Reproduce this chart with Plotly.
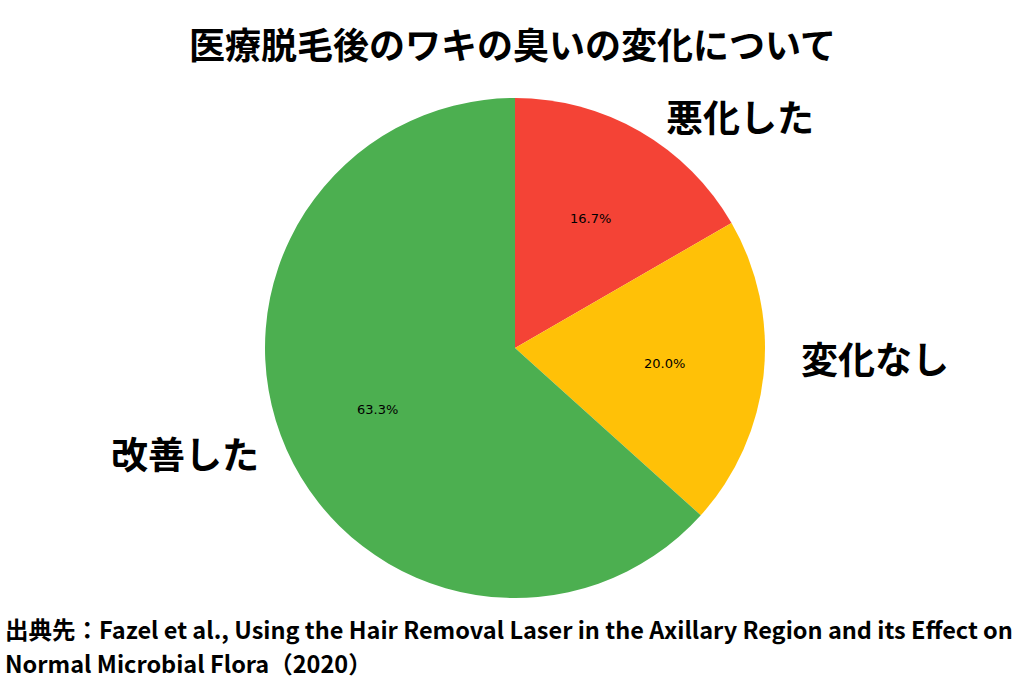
import math
import plotly.graph_objects as go

# ---- data ----
labels = ["悪化した", "変化なし", "改善した"]
counts = [5, 6, 19]
colors = ["#F44336", "#FFC107", "#4CAF50"]
title_text = "医療脱毛後のワキの臭いの変化について"
source_lines = ["出典先：Fazel et al., Using the Hair Removal Laser in the Axillary Region and its Effect on",
                "Normal Microbial Flora（2020）"]

# ---- layout geometry (pixels) ----
W, H = 1024, 683
CX, CY, R = 515, 348, 250
PCT_DIST = 0.6
LABEL_DIST = 1.1
LABEL_NUDGE_PX = {"悪化した": (11, 6), "変化なし": (11, -19), "改善した": (-3, -7)}
SOURCE_LINE_Y = [628.5, 662.5]
CJK = "Noto Sans CJK JP"

fig = go.Figure(go.Pie(
    labels=labels, values=counts, sort=False, direction="clockwise", rotation=0,
    marker=dict(colors=colors, line=dict(width=0)), textinfo="none", showlegend=False,
    hoverinfo="label+percent",
    domain=dict(x=[(CX - R) / W, (CX + R) / W], y=[(H - CY - R) / H, (H - CY + R) / H]),
))

total = sum(counts)
ann = []
start = 90.0
for lab, v in zip(labels, counts):
    sweep = 360.0 * v / total
    mid = math.radians(start - sweep / 2)
    start -= sweep
    c, s = math.cos(mid), math.sin(mid)
    ann.append(dict(x=(CX + PCT_DIST * R * c) / W, y=(H - CY + PCT_DIST * R * s) / H,
                    xref="paper", yref="paper", showarrow=False,
                    text=f"{100 * v / total:.1f}%", font=dict(family="DejaVu Sans", size=13, color="black"),
                    xanchor="center", yanchor="middle"))
    dx, dy = LABEL_NUDGE_PX[lab]
    ann.append(dict(x=(CX + LABEL_DIST * R * c + dx) / W, y=(H - CY + LABEL_DIST * R * s - dy) / H,
                    xref="paper", yref="paper", showarrow=False,
                    text=lab, font=dict(family=CJK, size=37, color="black", weight="bold"),
                    xanchor="left" if c > 0 else "right", yanchor="middle"))

ann.append(dict(x=0.5, y=(H - 43) / H, xref="paper", yref="paper", showarrow=False,
                text=title_text, font=dict(family=CJK, size=36, color="black", weight="bold"),
                xanchor="center", yanchor="middle"))
for line, ly in zip(source_lines, SOURCE_LINE_Y):
    ann.append(dict(x=3 / W, y=(H - ly) / H, xref="paper", yref="paper", showarrow=False,
                    text=line, align="left",
                    font=dict(family=CJK, size=23.5, color="black", weight="bold"),
                    xanchor="left", yanchor="middle"))

fig.update_layout(width=W, height=H, margin=dict(l=0, r=0, t=0, b=0),
                  paper_bgcolor="white", plot_bgcolor="white", annotations=ann)
fig.write_html("out.html", config={"displayModeBar": False},
               post_script="document.body.style.margin='0';")
